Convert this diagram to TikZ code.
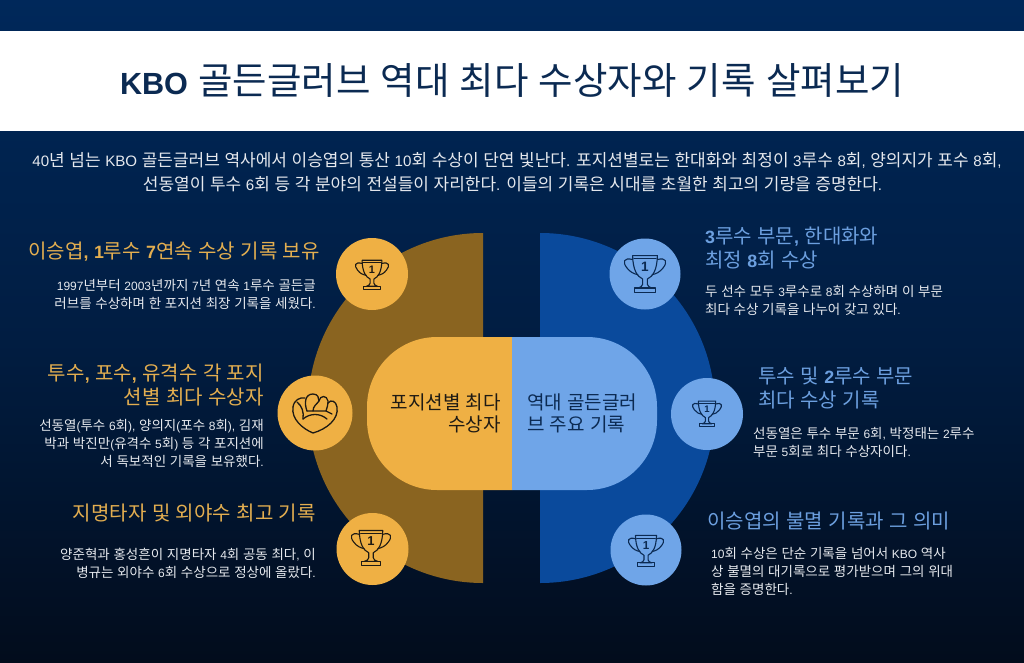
\documentclass[tikz,border=0pt]{standalone}
\usepackage{fontspec}
\setmainfont{Liberation Sans}[WordSpace=1.1]
\newfontfamily\hangulfont{Noto Sans CJK KR}[Scale=1.125]
\usetikzlibrary{calc}
% hangul runs switch font by themselves
\XeTeXinterchartokenstate=1
\newXeTeXintercharclass\hangulclass
\newcount\hangulcode
\hangulcode="AC00
\loop
	\XeTeXcharclass\hangulcode=\hangulclass
	\ifnum\hangulcode<"D7A3 \advance\hangulcode by 1
\repeat
\XeTeXinterchartoks 0 \hangulclass = {\begingroup\hangulfont}
\XeTeXinterchartoks 4095 \hangulclass = {\begingroup\hangulfont}
\XeTeXinterchartoks \hangulclass 0 = {\endgroup}
\XeTeXinterchartoks \hangulclass 4095 = {\endgroup}
\definecolor{navytop}{HTML}{00285A}
\definecolor{navylow}{HTML}{020C1C}
\definecolor{titleink}{HTML}{0B2A52}
\definecolor{goldmain}{HTML}{EFB044}
\definecolor{golddark}{HTML}{8A6420}
\definecolor{goldtext}{HTML}{E3AE50}
\definecolor{bluemain}{HTML}{6FA5E8}
\definecolor{bluedark}{HTML}{0A4A9C}
\definecolor{bluetext}{HTML}{6C9FDF}
\definecolor{iconink}{HTML}{1E1A14}
\definecolor{bodyink}{HTML}{E6E9EE}
\tikzset{
	headtext/.style={font=\fontsize{17.8}{24.5}\selectfont, inner sep=0pt},
	bodytext/.style={font=\fontsize{12}{18}\selectfont, inner sep=0pt, color=bodyink},
	midtext/.style={font=\fontsize{16.9}{22}\selectfont, inner sep=0pt},
	introtext/.style={font=\fontsize{15.1}{24}\selectfont, inner sep=0pt, color=bodyink},
	iconline/.style={line width=1.1pt, line join=round, line cap=round}
}
\def\trophy(#1)(#2)(#3)(#4){
	\begin{scope}[shift={(#1)}, x=#2pt, y=-#2pt, iconline, color=#3]
		\draw (-0.62, -0.92) -- (0.62, -0.92) .. controls (0.6, -0.2) and (0.4, 0.12) .. (0.12, 0.25) -- (0.12, 0.52) .. controls (0.14, 0.62) and (0.22, 0.66) .. (0.34, 0.7) -- (-0.34, 0.7) .. controls (-0.22, 0.66) and (-0.14, 0.62) .. (-0.12, 0.52) -- (-0.12, 0.25) .. controls (-0.4, 0.12) and (-0.6, -0.2) .. (-0.62, -0.92);
		\draw (-0.55, -0.76) -- (0.55, -0.76);
		\draw (-0.62, -0.72) .. controls (-1.05, -0.85) and (-1.15, -0.6) .. (-0.9, -0.3) .. controls (-0.75, -0.1) and (-0.55, 0) .. (-0.36, 0.03);
		\draw (0.62, -0.72) .. controls (1.05, -0.85) and (1.15, -0.6) .. (0.9, -0.3) .. controls (0.75, -0.1) and (0.55, 0) .. (0.36, 0.03);
		\draw (-0.52, 0.7) rectangle (0.52, 0.92);
		\node[font=\bfseries\fontsize{\fpeval{#2*0.68}}{#2}\selectfont, inner sep=0pt] (#4) at (0, -0.34) {1};
	\end{scope}
}

\begin{document}
\begin{tikzpicture}[x=1pt, y=-1pt]
	%%%%% START %%%%%
	
	\useasboundingbox (0, 0) rectangle (1024, 663);
	\shade[top color=navytop, bottom color=navylow, middle color=navytop!62!navylow] (0, 0) rectangle (1024, 663);
	\fill[white] (0, 31) rectangle (1024, 131);
	
	\node[font=\fontsize{33.3}{40}\selectfont, color=titleink, inner sep=0pt] (title) at (512, 80) {\textbf{\fontsize{30.6}{40}\selectfont KBO} 골든글러브 역대 최다 수상자와 기록 살펴보기};
	\node[introtext] (introa) at (517, 160) {40년 넘는 KBO 골든글러브 역사에서 이승엽의 통산 10회 수상이 단연 빛난다. 포지션별로는 한대화와 최정이 3루수 8회, 양의지가 포수 8회,};
	\node[introtext] (introb) at (512.5, 184) {선동열이 투수 6회 등 각 분야의 전설들이 자리한다. 이들의 기록은 시대를 초월한 최고의 기량을 증명한다.};
	
	\fill[golddark] (483, 233) arc (270:90:175) -- cycle;
	\fill[bluedark] (540, 233) arc (-90:90:175) -- cycle;
	
	\fill[goldmain] (512, 337) [rounded corners=70pt] -- (367, 337) -- (367, 490) [sharp corners] -- (512, 490) -- cycle;
	\fill[bluemain] (512, 337) [rounded corners=70pt] -- (657, 337) -- (657, 490) [sharp corners] -- (512, 490) -- cycle;
	
	\node[midtext, color=iconink, align=right, anchor=east] (midleft) at (501, 413) {포지션별 최다\\수상자};
	\node[midtext, color=titleink, align=left, anchor=west] (midright) at (527, 413) {역대 골든글러\\브 주요 기록};
	
	\fill[goldmain] (372, 274) circle (36);
	\fill[goldmain] (315, 413) circle (37.5);
	\fill[goldmain] (372.5, 549) circle (36);
	\fill[bluemain] (645, 274) circle (35.5);
	\fill[bluemain] (707, 414) circle (36);
	\fill[bluemain] (646, 550) circle (35.5);
	
	\trophy(372, 275)(16)(iconink)(numa)
	\trophy(371, 548)(19)(iconink)(numb)
	\trophy(645, 274)(20)(titleink)(numc)
	\trophy(707, 414)(14)(titleink)(numd)
	\trophy(646, 551)(17)(titleink)(nume)
	
	% glove
	\begin{scope}[shift={(315, 413)}, iconline, line width=1.3pt, color=iconink]
		\draw (-22, -6) .. controls (-24, 6) and (-12, 16) .. (-2, 20) .. controls (12, 16) and (24, 6) .. (22, -6) .. controls (21, -12) and (16, -14) .. (13, -10);
		\draw (-22, -6) .. controls (-21, -13) and (-15, -16) .. (-10, -15);
		\draw (-18, -11) .. controls (-13, -7) and (-11, -1) .. (-12, 6);
		\draw (-12, 6) .. controls (-5, 0) and (5, 0) .. (12, 6);
		\draw (-8, -2) .. controls (-11, -10) and (-10, -19) .. (-2, -19) .. controls (3, -19) and (4, -15) .. (4, -12);
		\draw (-2, -2) .. controls (-2, -7) and (2, -9) .. (4, -12) .. controls (5, -18) and (12, -18) .. (13, -12) .. controls (13, -8) and (12, -5) .. (11, -2);
		\draw (-8, -2) -- (-2, -2) -- (11, -2) -- (17, 1);
	\end{scope}
	
	\node[headtext, color=goldtext, anchor=east, align=right] (heada) at (320, 252) {이승엽\textbf{, 1}루수 \textbf{7}연속 수상 기록 보유};
	\node[bodytext, anchor=east, align=right] (bodya) at (316, 294) {1997년부터 2003년까지 7년 연속 1루수 골든글\\러브를 수상하며 한 포지션 최장 기록을 세웠다.};
	\node[headtext, color=goldtext, anchor=east, align=right] (headb) at (264, 385) {투수\textbf{,} 포수\textbf{,} 유격수 각 포지\\션별 최다 수상자};
	\node[bodytext, anchor=east, align=right] (bodyb) at (264, 443) {선동열(투수 6회), 양의지(포수 8회), 김재\\박과 박진만(유격수 5회) 등 각 포지션에\\서 독보적인 기록을 보유했다.};
	\node[headtext, color=goldtext, anchor=east, align=right] (headc) at (316, 513) {지명타자 및 외야수 최고 기록};
	\node[bodytext, anchor=east, align=right] (bodyc) at (316, 563) {양준혁과 홍성흔이 지명타자 4회 공동 최다, 이\\병규는 외야수 6회 수상으로 정상에 올랐다.};
	
	\node[headtext, color=bluetext, anchor=west, align=left] (headd) at (705, 248) {\textbf{3}루수 부문\textbf{,} 한대화와\\최정 \textbf{8}회 수상};
	\node[bodytext, anchor=west, align=left] (bodyd) at (705, 300) {두 선수 모두 3루수로 8회 수상하며 이 부문\\최다 수상 기록을 나누어 갖고 있다.};
	\node[headtext, color=bluetext, anchor=west, align=left] (heade) at (758, 388) {투수 및 \textbf{2}루수 부문\\최다 수상 기록};
	\node[bodytext, anchor=west, align=left] (bodye) at (753, 442) {선동열은 투수 부문 6회, 박정태는 2루수\\부문 5회로 최다 수상자이다.};
	\node[headtext, color=bluetext, anchor=west, align=left] (headf) at (707, 521) {이승엽의 불멸 기록과 그 의미};
	\node[bodytext, anchor=west, align=left] (bodyf) at (711, 571) {10회 수상은 단순 기록을 넘어서 KBO 역사\\상 불멸의 대기록으로 평가받으며 그의 위대\\함을 증명한다.};
	
	%%%%% END %%%%%
\end{tikzpicture}
\end{document}
